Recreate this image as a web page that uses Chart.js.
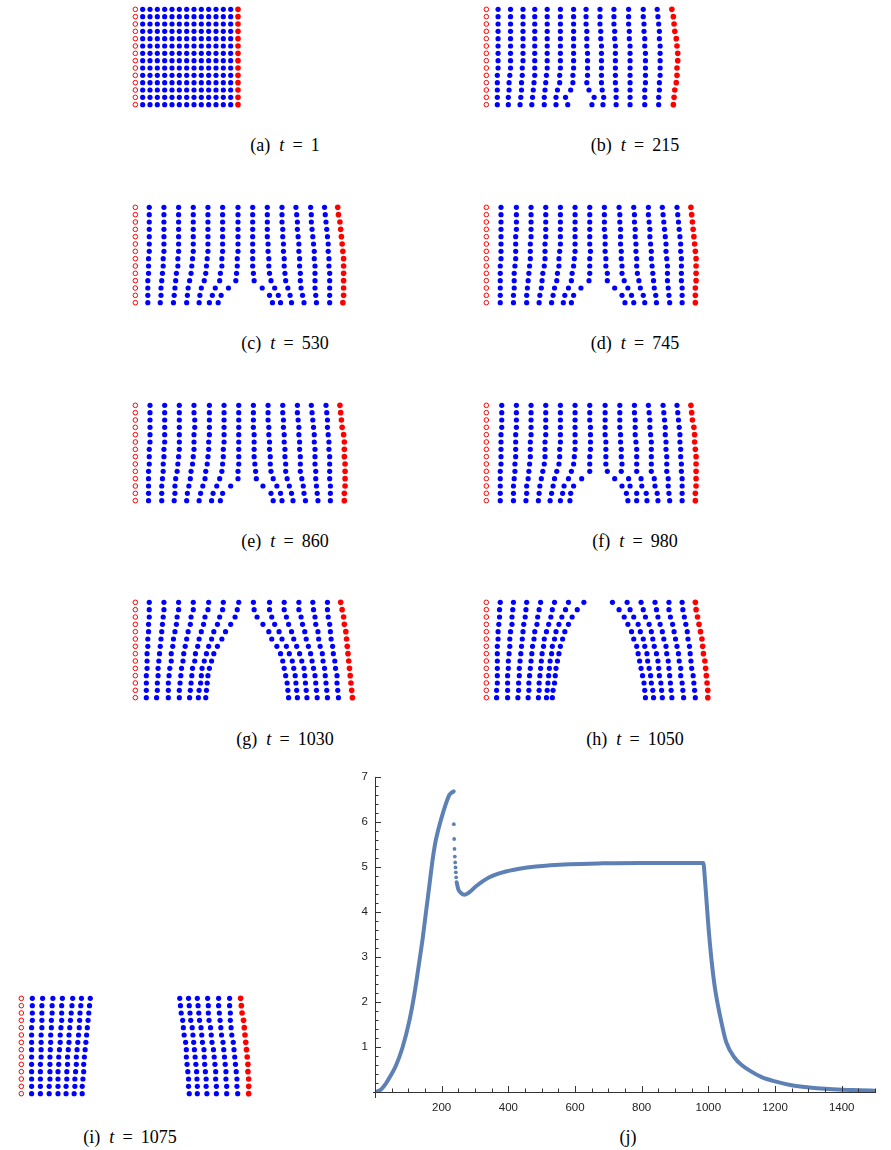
<!DOCTYPE html>
<html><head><meta charset="utf-8">
<script src="https://cdn.jsdelivr.net/npm/chart.js@4.4.1/dist/chart.umd.min.js"></script>
<style>
html,body{margin:0;padding:0;background:#fff;}
body{width:891px;height:1150px;position:relative;overflow:hidden;}
canvas{position:absolute;}
.cap{position:absolute;font-family:"Liberation Serif","DejaVu Serif",serif;font-size:18px;color:#000;white-space:nowrap;transform:translate(-50%,-50%);}
</style></head><body>
<script>
// ---------- lattice data (x positions in lattice-spacing units; rows top→bottom) ----------
const rowY = [13,12,11,10,9,8,7,6,5,4,3,2,1,0];
const openX = [0,0,0,0,0,0,0,0,0,0,0,0,0,0];

const blueA = [
[1,2,3,4,5,6,7,8,9,10,11,12,13],[1,2,3,4,5,6,7,8,9,10,11,12,13],
[1,2,3,4,5,6,7,8,9,10,11,12,13],[1,2,3,4,5,6,7,8,9,10,11,12,13],
[1,2,3,4,5,6,7,8,9,10,11,12,13],[1,2,3,4,5,6,7,8,9,10,11,12,13],
[1,2,3,4,5,6,7,8,9,10,11,12,13],[1,2,3,4,5,6,7,8,9,10,11,12,13],
[1,2,3,4,5,6,7,8,9,10,11,12,13],[1,2,3,4,5,6,7,8,9,10,11,12,13],
[1,2,3,4,5,6,7,8,9,10,11,12,13],[1,2,3,4,5,6,7,8,9,10,11,12,13],
[1,2,3,4,5,6,7,8,9,10,11,12,13],[1,2,3,4,5,6,7,8,9,10,11,12,13]];
const redA = [14,14,14,14,14,14,14,14,14,14,14,14,14,14];

const blueB = [
[1.6,3.3,5.0,6.6,8.3,10.1,11.9,13.6,15.5,17.4,19.4,21.4,23.3],
[1.6,3.3,5.0,6.6,8.3,10.1,11.9,13.6,15.5,17.4,19.4,21.4,23.4],
[1.6,3.3,5.0,6.6,8.3,10.1,11.9,13.6,15.5,17.4,19.4,21.5,23.5],
[1.6,3.3,5.0,6.6,8.3,10.1,11.9,13.7,15.6,17.5,19.5,21.5,23.6],
[1.6,3.3,5.0,6.6,8.3,10.1,11.9,13.7,15.6,17.5,19.5,21.6,23.6],
[1.6,3.3,5.0,6.6,8.3,10.1,11.9,13.7,15.7,17.6,19.6,21.6,23.7],
[1.6,3.3,5.0,6.6,8.3,10.1,11.9,13.8,15.7,17.6,19.6,21.7,23.7],
[1.6,3.3,5.0,6.6,8.3,10.1,11.9,13.8,15.7,17.6,19.6,21.7,23.7],
[1.6,3.3,4.9,6.6,8.3,10.1,11.9,13.8,15.7,17.6,19.6,21.7,23.7],
[1.5,3.2,4.9,6.6,8.2,10.0,11.8,13.8,15.7,17.6,19.6,21.7,23.7],
[1.5,3.1,4.8,6.5,8.1,10.0,11.8,13.7,15.7,17.6,19.6,21.7,23.6],
[1.5,3.1,4.8,6.4,8.0,9.7,11.5,14.0,15.8,17.7,19.6,21.6,23.6],
[1.5,3.0,4.7,6.3,7.9,9.5,10.8,14.7,16.0,17.7,19.6,21.6,23.5],
[1.5,3.0,4.6,6.2,7.9,9.5,11.1,14.4,15.9,17.7,19.6,21.6,23.5]];
const redB = [25.3,25.5,25.6,25.7,25.9,26.0,26.1,26.1,26.0,26.0,25.9,25.7,25.6,25.5];

const blueC = [
[1.9,3.9,5.9,7.9,9.9,11.9,14.0,16.0,18.0,20.0,21.9,23.9,25.8],
[1.9,3.9,5.9,7.9,9.9,11.9,14.0,16.0,18.0,20.0,22.0,24.0,25.9],
[1.9,3.9,5.9,7.9,9.9,11.9,14.0,16.0,18.0,20.0,22.1,24.0,26.0],
[1.9,3.9,5.9,7.9,9.9,11.9,14.0,16.0,18.0,20.1,22.1,24.1,26.1],
[1.9,3.9,5.9,7.9,9.9,11.9,14.0,16.0,18.0,20.1,22.2,24.2,26.2],
[1.9,3.9,5.9,7.9,9.9,11.9,14.0,16.0,18.1,20.2,22.3,24.3,26.3],
[1.9,3.9,5.9,7.9,9.9,11.9,14.0,16.0,18.1,20.2,22.3,24.4,26.3],
[1.8,3.8,5.8,7.8,9.8,11.8,13.9,16.0,18.2,20.3,22.4,24.4,26.4],
[1.8,3.8,5.8,7.7,9.7,11.8,13.9,16.0,18.2,20.3,22.4,24.5,26.4],
[1.8,3.7,5.6,7.6,9.6,11.6,13.8,16.1,18.3,20.4,22.5,24.5,26.5],
[1.7,3.6,5.5,7.4,9.4,11.5,13.7,16.2,18.5,20.5,22.5,24.5,26.5],
[1.7,3.5,5.4,7.2,9.0,10.9,12.7,17.3,19.0,20.8,22.6,24.5,26.5],
[1.7,3.5,5.3,7.1,8.8,10.5,11.7,18.3,19.5,21.1,22.8,24.6,26.5],
[1.7,3.4,5.2,7.0,8.7,10.1,11.3,18.7,19.8,21.3,23.0,24.7,26.5]];
const redC = [27.6,27.7,27.9,28.0,28.1,28.2,28.3,28.4,28.4,28.4,28.4,28.4,28.4,28.3];

const blueD = [
[2.0,4.1,6.1,8.1,10.1,12.1,14.1,16.1,18.1,20.1,22.1,24.0,26.0],
[2.0,4.1,6.1,8.1,10.1,12.1,14.1,16.1,18.2,20.2,22.1,24.1,26.1],
[2.0,4.1,6.1,8.1,10.1,12.1,14.1,16.1,18.2,20.2,22.2,24.2,26.2],
[2.0,4.1,6.1,8.1,10.1,12.1,14.1,16.1,18.3,20.3,22.3,24.3,26.3],
[2.0,4.0,6.1,8.1,10.1,12.1,14.1,16.2,18.3,20.3,22.3,24.4,26.4],
[2.0,4.0,6.0,8.0,10.1,12.1,14.1,16.2,18.3,20.4,22.4,24.5,26.5],
[2.0,4.0,6.0,8.0,10.0,12.1,14.2,16.2,18.4,20.4,22.5,24.5,26.5],
[2.0,4.0,6.0,8.0,9.9,12.0,14.1,16.3,18.4,20.5,22.5,24.6,26.6],
[1.9,3.9,5.9,7.9,9.9,11.9,14.1,16.3,18.5,20.5,22.6,24.7,26.6],
[1.9,3.8,5.8,7.7,9.7,11.7,14.1,16.5,18.5,20.6,22.7,24.7,26.6],
[1.9,3.8,5.7,7.6,9.6,11.6,14.0,16.5,18.8,20.8,22.8,24.7,26.6],
[1.9,3.8,5.6,7.5,9.3,11.2,12.9,17.5,19.3,21.0,22.9,24.8,26.7],
[1.9,3.7,5.5,7.3,9.1,10.7,11.9,18.5,19.8,21.4,23.1,24.9,26.7],
[1.9,3.7,5.5,7.2,8.9,10.5,11.6,18.9,20.1,21.6,23.2,25.0,26.7]];
const redD = [27.9,28.0,28.1,28.2,28.3,28.4,28.5,28.6,28.6,28.6,28.6,28.5,28.5,28.5];

const blueE = [
[2.0,4.0,6.0,8.0,10.1,12.1,14.1,16.1,18.1,20.1,22.1,24.0,26.0],
[2.0,4.0,6.0,8.0,10.1,12.1,14.1,16.1,18.1,20.1,22.1,24.1,26.1],
[2.0,4.0,6.0,8.1,10.1,12.1,14.1,16.1,18.1,20.2,22.2,24.2,26.2],
[2.0,4.0,6.0,8.1,10.1,12.1,14.1,16.1,18.2,20.2,22.3,24.3,26.2],
[2.0,4.0,6.0,8.0,10.1,12.1,14.1,16.2,18.2,20.3,22.3,24.4,26.3],
[2.0,4.0,6.0,8.0,10.0,12.1,14.1,16.2,18.3,20.3,22.4,24.4,26.4],
[1.9,3.9,6.0,8.0,10.0,12.0,14.1,16.2,18.3,20.4,22.4,24.5,26.4],
[1.9,3.9,5.9,7.9,9.9,12.0,14.1,16.2,18.4,20.4,22.5,24.5,26.5],
[1.9,3.8,5.8,7.8,9.8,11.9,14.1,16.3,18.4,20.5,22.5,24.5,26.5],
[1.8,3.8,5.7,7.6,9.6,11.8,14.0,16.4,18.5,20.5,22.5,24.6,26.5],
[1.8,3.7,5.5,7.5,9.5,11.5,14.0,16.5,18.8,20.7,22.7,24.6,26.5],
[1.8,3.6,5.4,7.3,9.2,11.1,13.0,17.4,19.3,21.0,22.9,24.7,26.6],
[1.8,3.6,5.4,7.1,8.9,10.6,11.9,18.5,19.8,21.3,23.0,24.8,26.6],
[1.8,3.6,5.3,7.0,8.7,10.4,11.6,18.8,20.0,21.5,23.2,24.9,26.6]];
const redE = [27.9,28.0,28.1,28.2,28.4,28.5,28.5,28.5,28.6,28.6,28.6,28.6,28.5,28.5];

const blueF = [
[2.1,4.1,6.1,8.1,10.1,12.1,14.1,16.2,18.2,20.2,22.1,24.1,26.0],
[2.1,4.1,6.1,8.1,10.1,12.1,14.1,16.2,18.2,20.2,22.2,24.2,26.1],
[2.1,4.1,6.1,8.1,10.1,12.1,14.1,16.2,18.2,20.3,22.3,24.3,26.2],
[2.1,4.1,6.1,8.1,10.1,12.1,14.2,16.2,18.2,20.3,22.3,24.4,26.3],
[2.0,4.0,6.1,8.1,10.1,12.1,14.2,16.2,18.3,20.3,22.4,24.4,26.4],
[2.0,4.0,6.0,8.0,10.1,12.1,14.2,16.3,18.3,20.4,22.5,24.5,26.4],
[2.0,4.0,6.0,8.0,10.0,12.1,14.2,16.3,18.4,20.5,22.5,24.5,26.5],
[2.0,4.0,6.0,8.0,10.0,12.0,14.1,16.3,18.4,20.5,22.5,24.6,26.5],
[2.0,3.9,5.9,7.9,9.9,11.9,14.1,16.3,18.5,20.5,22.5,24.6,26.6],
[1.9,3.9,5.8,7.7,9.6,11.6,14.1,16.5,18.4,20.5,22.5,24.6,26.6],
[1.9,3.8,5.7,7.5,9.3,11.2,13.0,17.5,19.4,21.1,22.9,24.8,26.7],
[1.9,3.7,5.5,7.3,9.1,10.6,11.9,18.5,19.6,21.2,23.0,24.8,26.7],
[1.9,3.7,5.5,7.2,8.9,10.4,11.5,19.1,20.5,21.8,23.3,24.9,26.7],
[1.9,3.7,5.4,7.1,8.7,10.1,11.4,19.3,20.5,21.9,23.4,25.0,26.7]];
const redF = [27.9,28.0,28.1,28.3,28.4,28.4,28.5,28.6,28.6,28.6,28.6,28.6,28.5,28.5];

const blueG = [
[1.9,3.9,5.9,7.9,10.0,12.0,14.1,16.1,18.3,20.3,22.3,24.2,26.2],
[1.9,3.9,5.9,7.9,9.9,11.9,13.9,16.2,18.3,20.3,22.3,24.3,26.2],
[1.9,3.8,5.7,7.6,9.5,11.5,13.6,16.6,18.6,20.6,22.6,24.5,26.3],
[1.8,3.7,5.6,7.5,9.3,11.2,13.0,17.4,19.0,20.9,22.8,24.6,26.5],
[1.8,3.6,5.4,7.2,9.0,10.7,12.3,18.2,19.6,21.3,23.1,24.9,26.6],
[1.7,3.5,5.2,7.0,8.7,10.4,11.8,18.6,20.0,21.6,23.3,25.0,26.7],
[1.7,3.4,5.1,6.8,8.5,10.0,11.2,19.3,20.6,22.0,23.6,25.2,26.9],
[1.6,3.3,4.9,6.6,8.2,9.7,10.7,19.8,21.0,22.4,23.9,25.5,27.0],
[1.6,3.2,4.9,6.5,8.1,9.4,10.4,20.1,21.4,22.7,24.1,25.6,27.2],
[1.6,3.1,4.7,6.3,7.8,9.1,10.1,20.3,21.6,23.0,24.3,25.8,27.3],
[1.5,3.1,4.6,6.2,7.7,9.0,9.9,20.5,21.8,23.1,24.5,25.9,27.5],
[1.5,3.0,4.5,6.1,7.6,8.9,9.8,20.7,21.9,23.2,24.6,26.0,27.5],
[1.5,3.0,4.5,6.0,7.5,8.7,9.7,20.8,22.0,23.3,24.7,26.1,27.6],
[1.5,2.9,4.5,6.0,7.4,8.6,9.6,20.9,22.1,23.4,24.8,26.2,27.7]];
const redG = [28.0,28.2,28.4,28.5,28.7,28.8,28.9,29.0,29.1,29.2,29.3,29.4,29.5,29.6];

const blueH = [
[1.9,3.7,5.5,7.4,9.3,11.2,13.3,17.2,19.2,21.1,23.0,24.9,26.7],
[1.8,3.6,5.4,7.2,9.0,10.8,12.4,18.1,19.6,21.4,23.2,24.9,26.8],
[1.8,3.5,5.3,7.0,8.8,10.3,11.7,18.8,20.1,21.7,23.4,25.1,27.0],
[1.7,3.5,5.1,6.9,8.5,9.9,11.2,19.3,20.7,22.2,23.7,25.4,27.2],
[1.6,3.3,5.0,6.6,8.2,9.5,10.7,19.8,21.0,22.5,24.0,25.6,27.4],
[1.6,3.2,4.9,6.5,7.9,9.3,10.4,20.1,21.4,22.7,24.2,25.8,27.5],
[1.5,3.2,4.8,6.3,7.8,9.0,10.1,20.5,21.6,22.9,24.5,26.0,27.7],
[1.5,3.1,4.7,6.2,7.6,8.9,9.9,20.7,21.9,23.2,24.6,26.2,27.8],
[1.5,3.0,4.6,6.1,7.5,8.7,9.7,20.9,22.0,23.4,24.8,26.3,27.9],
[1.5,3.0,4.5,6.0,7.4,8.6,9.5,21.1,22.2,23.5,24.9,26.5,28.0],
[1.5,2.9,4.5,5.9,7.3,8.5,9.4,21.3,22.4,23.6,25.0,26.5,28.2],
[1.5,2.9,4.4,5.8,7.2,8.4,9.3,21.5,22.5,23.8,25.1,26.7,28.3],
[1.4,2.9,4.4,5.8,7.2,8.3,9.1,21.6,22.7,23.9,25.2,26.8,28.4],
[1.4,2.9,4.3,5.7,7.1,8.2,9.0,21.7,22.8,24.0,25.3,26.9,28.5]];
const redH = [28.5,28.6,28.8,29.0,29.2,29.4,29.5,29.6,29.8,29.9,30.0,30.1,30.2,30.2];

const blueI = [
[1.5,2.9,4.3,5.6,7.0,8.2,9.4,21.6,22.8,24.0,25.4,26.9,28.4],
[1.5,2.8,4.2,5.5,6.9,8.1,9.3,21.7,22.9,24.1,25.5,26.9,28.4],
[1.5,2.8,4.2,5.5,6.8,8.0,9.2,21.8,23.0,24.2,25.5,27.0,28.5],
[1.5,2.8,4.1,5.5,6.7,7.95,9.1,22.0,23.1,24.3,25.6,27.1,28.5],
[1.4,2.8,4.1,5.4,6.6,7.9,9.0,22.1,23.3,24.5,25.8,27.2,28.6],
[1.4,2.7,4.0,5.3,6.5,7.8,8.9,22.2,23.4,24.6,25.9,27.3,28.7],
[1.4,2.7,4.0,5.3,6.5,7.7,8.8,22.4,23.5,24.7,26.0,27.5,28.9],
[1.4,2.7,3.95,5.2,6.4,7.6,8.7,22.5,23.6,24.9,26.2,27.6,29.0],
[1.4,2.7,3.9,5.1,6.3,7.5,8.6,22.5,23.7,24.95,26.3,27.7,29.1],
[1.4,2.6,3.9,5.1,6.3,7.5,8.5,22.6,23.8,25.0,26.4,27.8,29.2],
[1.4,2.6,3.9,5.0,6.2,7.4,8.5,22.7,23.9,25.1,26.5,27.9,29.3],
[1.4,2.6,3.9,5.0,6.2,7.3,8.4,22.8,23.95,25.2,26.5,27.9,29.4],
[1.4,2.6,3.8,5.0,6.1,7.3,8.3,22.8,24.0,25.2,26.6,28.0,29.4],
[1.4,2.6,3.8,5.0,6.1,7.2,8.3,22.9,24.0,25.3,26.6,28.0,29.5]];
const redI = [29.9,30.0,30.1,30.3,30.4,30.5,30.6,30.7,30.8,30.9,30.9,31.0,31.0,31.0];

// ---------- panel (j) curve data ----------
const riseT = [0,10,20,33,45,63,83,103,118,133,143,153,163,173,180,185,198,213,223,230,236];
const riseV = [0,0.02,0.07,0.19,0.34,0.59,1.0,1.58,2.17,2.9,3.41,4.0,4.58,5.17,5.5,5.68,6.05,6.41,6.6,6.65,6.68];
const dropT = [236.5,237.5,238.5,239.5,240.5,241.5,242.5,243.5];
const dropV = [5.95,5.62,5.40,5.23,5.10,4.99,4.88,4.77];
const restT = [245,250,258,268,280,303,343,383,433,483,583,683,800,900,985,990,995,1000,1010,1020,1035,1054,1080,1100,1123,1160,1203,1250,1303,1350,1403,1450,1498];
const restV = [4.66,4.5,4.42,4.38,4.42,4.57,4.77,4.88,4.96,5.01,5.06,5.08,5.09,5.09,5.09,4.7,4.2,3.7,2.9,2.3,1.7,1.1,0.75,0.6,0.48,0.33,0.23,0.15,0.1,0.07,0.05,0.04,0.03];
const xTickLabels = [200,400,600,800,1000,1200,1400];
const yTickLabels = [1,2,3,4,5,6,7];

// ---------- layout ----------
const U = 242/33; // px per lattice unit
const panels = [
  {blue:blueA, red:redA, lab:'(a)', t:'1',    ox:135.0, ty:9.3,   cx:285, cy:145},
  {blue:blueB, red:redB, lab:'(b)', t:'215',  ox:486.7, ty:9.3,   cx:635, cy:145},
  {blue:blueC, red:redC, lab:'(c)', t:'530',  ox:135.0, ty:207.3, cx:285, cy:343},
  {blue:blueD, red:redD, lab:'(d)', t:'745',  ox:486.7, ty:207.3, cx:635, cy:343},
  {blue:blueE, red:redE, lab:'(e)', t:'860',  ox:135.0, ty:405.3, cx:285, cy:541},
  {blue:blueF, red:redF, lab:'(f)', t:'980',  ox:486.7, ty:405.3, cx:635, cy:541},
  {blue:blueG, red:redG, lab:'(g)', t:'1030', ox:135.0, ty:602.3, cx:285, cy:739},
  {blue:blueH, red:redH, lab:'(h)', t:'1050', ox:486.7, ty:602.3, cx:635, cy:739},
  {blue:blueI, red:redI, lab:'(i)', t:'1075', ox:21.0,  ty:998.3, cx:130, cy:1137}
];

function addCap(html,cx,cy){
  const d=document.createElement('div');d.className='cap';d.innerHTML=html;
  d.style.left=cx+'px';d.style.top=cy+'px';document.body.appendChild(d);
}

panels.forEach(p=>{
  const c=document.createElement('canvas');
  c.width=242;c.height=110;
  c.style.left=(p.ox-U)+'px';c.style.top=(p.ty-U)+'px';
  document.body.appendChild(c);
  const open=openX.map((x,i)=>({x:x,y:rowY[i]}));
  const blue=p.blue.flatMap((row,i)=>row.map(x=>({x:x,y:rowY[i]})));
  const red=p.red.map((x,i)=>({x:x,y:rowY[i]}));
  new Chart(c,{type:'scatter',
    data:{datasets:[
      {data:open,pointRadius:2.3,pointBorderWidth:1,pointBorderColor:'#ff0000',pointBackgroundColor:'#ffffff'},
      {data:blue,pointRadius:2.6,pointBorderWidth:0,pointBackgroundColor:'#0000ff'},
      {data:red,pointRadius:2.8,pointBorderWidth:0,pointBackgroundColor:'#ff0000'}]},
    options:{responsive:false,animation:false,events:[],
      layout:{padding:0,autoPadding:false},
      plugins:{legend:{display:false},tooltip:{enabled:false}},
      scales:{x:{type:'linear',min:-1,max:32,display:false},y:{type:'linear',min:-1,max:14,display:false}}}});
  addCap(p.lab+'&nbsp;&nbsp;<i>t</i>&thinsp; = &thinsp;'+p.t,p.cx,p.cy);
});

// ---------- panel (j) ----------
const axisPlugin={id:'mAxes',afterDraw(ch){
  const x=ch.scales.x,y=ch.scales.y,ctx=ch.ctx;
  const x0=x.getPixelForValue(0),y0=y.getPixelForValue(0);
  ctx.save();ctx.strokeStyle='#333';ctx.lineWidth=1;
  ctx.beginPath();
  ctx.moveTo(x0-2,y0+0.5);ctx.lineTo(x.getPixelForValue(1500)+1,y0+0.5);
  ctx.moveTo(x0+0.5,y0+6);ctx.lineTo(x0+0.5,y.getPixelForValue(7));
  for(let v=50;v<=1500;v+=50){const px=Math.round(x.getPixelForValue(v))+0.5;const L=(v%200===0)?6:3.5;ctx.moveTo(px,y0);ctx.lineTo(px,y0-L);}
  for(let k=1;k<=35;k++){const v=k/5;const py=Math.round(y.getPixelForValue(v))+0.5;const L=(k%5===0)?6:3.5;ctx.moveTo(x0,py);ctx.lineTo(x0+L,py);}
  ctx.stroke();ctx.restore();}};

const cj=document.createElement('canvas');
cj.width=542;cj.height=357;cj.style.left='345px';cj.style.top='763px';
document.body.appendChild(cj);
const blueJ='#5e81b5';
new Chart(cj,{type:'scatter',
  data:{datasets:[
    {data:riseT.map((t,i)=>({x:t,y:riseV[i]})),showLine:true,borderColor:blueJ,borderWidth:4,pointRadius:0,cubicInterpolationMode:'monotone',borderCapStyle:'round'},
    {data:dropT.map((t,i)=>({x:t,y:dropV[i]})),showLine:false,pointRadius:1.9,pointBorderWidth:0,pointBackgroundColor:blueJ},
    {data:restT.map((t,i)=>({x:t,y:restV[i]})),showLine:true,borderColor:blueJ,borderWidth:4,pointRadius:0,cubicInterpolationMode:'monotone',borderCapStyle:'round'}]},
  options:{responsive:false,animation:false,events:[],
    layout:{padding:{top:10,right:12,left:0,bottom:0},autoPadding:false},
    plugins:{legend:{display:false},tooltip:{enabled:false}},
    scales:{
      x:{type:'linear',min:0,max:1500,afterFit(s){s.height=28;},
         afterBuildTicks(s){s.ticks=xTickLabels.map(v=>({value:v}));},
         grid:{display:false,drawTicks:false},border:{display:false},
         ticks:{padding:9,color:'#222',font:{family:'Liberation Sans',size:11.5},maxRotation:0,callback:v=>String(v)}},
      y:{type:'linear',min:0,max:7,afterFit(s){s.width=30;},
         afterBuildTicks(s){s.ticks=yTickLabels.map(v=>({value:v}));},
         grid:{display:false,drawTicks:false},border:{display:false},
         ticks:{padding:7,color:'#222',font:{family:'Liberation Sans',size:11.5},callback:v=>String(v)}}}},
  plugins:[axisPlugin]});
addCap('(j)',628,1137);
</script>
</body></html>
